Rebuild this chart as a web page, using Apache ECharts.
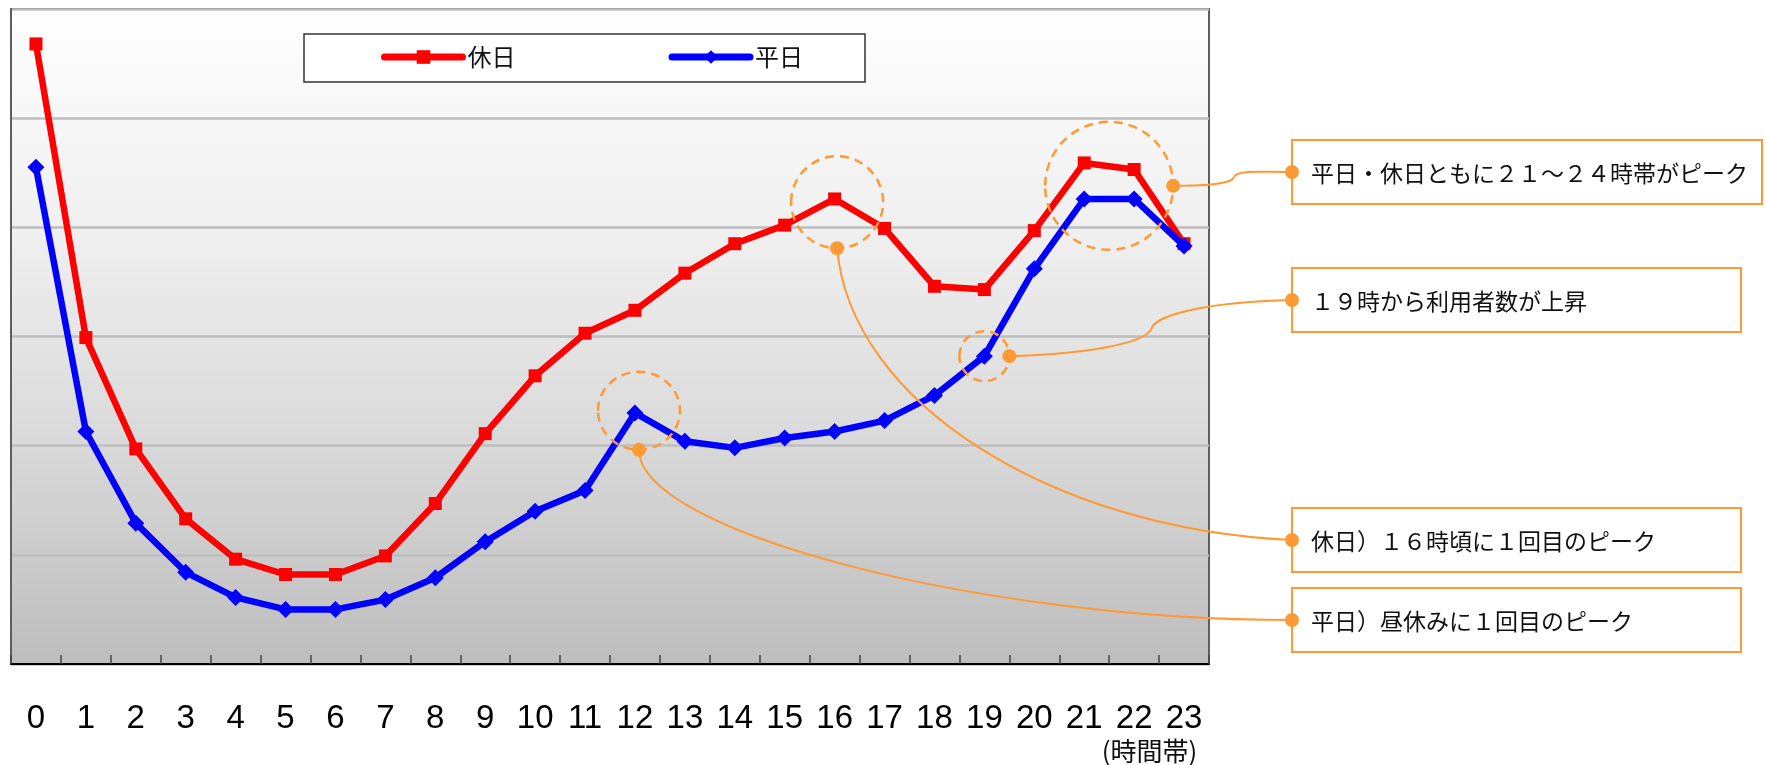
<!DOCTYPE html>
<html><head><meta charset="utf-8">
<script src="https://cdn.jsdelivr.net/npm/echarts@6/dist/echarts.min.js"></script>
<style>html,body{margin:0;padding:0;background:#fff}#c{width:1765px;height:765px}</style>
</head><body><div id="c"></div>
<script>
// ---- data ----
const hours = ['0','1','2','3','4','5','6','7','8','9','10','11','12','13','14','15','16','17','18','19','20','21','22','23'];
const holiday = [5.68, 2.99, 1.97, 1.33, 0.96, 0.82, 0.82, 0.99, 1.47, 2.11, 2.64, 3.03, 3.24, 3.58, 3.85, 4.02, 4.26, 3.99, 3.46, 3.43, 3.97, 4.59, 4.53, 3.85];
const weekday = [4.55, 2.13, 1.29, 0.84, 0.61, 0.50, 0.50, 0.59, 0.79, 1.12, 1.40, 1.59, 2.30, 2.04, 1.98, 2.07, 2.13, 2.23, 2.46, 2.82, 3.62, 4.26, 4.26, 3.83];
const seriesNames = ['休日', '平日'];
const yMin = 0, yMax = 6, yStep = 1;
const axisUnit = '(時間帯)';
const noteTexts = [
  '平日・休日ともに２１～２４時帯がピーク',
  '１９時から利用者数が上昇',
  '休日）１６時頃に１回目のピーク',
  '平日）昼休みに１回目のピーク'
];
// annotation anchors in data units: [category position, value]
const noteAnchors = [[21.5, 4.38], [19.0, 2.82], [16.05, 4.23], [12.08, 2.32]];

const ORANGE = '#ff9933';
const chart = echarts.init(document.getElementById('c'), null, {renderer: 'canvas'});

const option = {
  animation: false,
  backgroundColor: '#ffffff',
  grid: {
    left: 11, right: 556, top: 9, bottom: 101,
    containLabel: false, outerBoundsMode: 'none',
    show: true, borderColor: '#5e5e5e', borderWidth: 2,
    backgroundColor: {
      type: 'linear', x: 0, y: 0, x2: 0, y2: 1,
      colorStops: [
        {offset: 0, color: '#fefefe'},
        {offset: 0.35, color: '#efefef'},
        {offset: 0.65, color: '#dadada'},
        {offset: 1, color: '#bdbdbd'}
      ]
    }
  },
  legend: {
    data: seriesNames,
    left: 381, top: 45, padding: 0,
    itemWidth: 78, itemHeight: 17, itemGap: 153,
    lineStyle: {width: 7, cap: 'round'},
    textStyle: {fontSize: 24, color: '#111', fontFamily: '"Noto Sans CJK JP"'}
  },
  xAxis: {
    type: 'category', data: hours, boundaryGap: true,
    axisLine: {lineStyle: {color: '#000', width: 2}},
    axisTick: {show: true, inside: true, length: 9, lineStyle: {color: '#444', width: 1.5}},
    axisLabel: {fontSize: 33, color: '#000', fontFamily: '"Liberation Sans", Arial, sans-serif', margin: 38, interval: 0},
    splitLine: {show: false}
  },
  yAxis: {
    type: 'value', min: yMin, max: yMax, interval: yStep,
    axisLabel: {show: false},
    axisLine: {show: true, lineStyle: {color: '#5e5e5e', width: 2}},
    axisTick: {show: false},
    splitLine: {lineStyle: {color: '#bebebe', width: 2.5}}
  },
  series: [
    {
      name: seriesNames[0], type: 'line', data: holiday,
      symbol: 'rect', symbolSize: 13,
      lineStyle: {color: '#ff0000', width: 6.5},
      itemStyle: {color: '#ff0000'},
      z: 3
    },
    {
      name: seriesNames[1], type: 'line', data: weekday,
      symbol: 'diamond', symbolSize: 17,
      lineStyle: {color: '#0000ff', width: 6.5},
      itemStyle: {color: '#0000ff'},
      z: 4
    }
  ]
};
chart.setOption(option);

// ---- annotations positioned through the axes ----
const p0 = chart.convertToPixel({gridIndex: 0}, [0, 0]);
const p1 = chart.convertToPixel({gridIndex: 0}, [1, 1]);
const toPx = (c, v) => [p0[0] + c * (p1[0] - p0[0]), p0[1] + v * (p1[1] - p0[1])];

const circles = [
  {c: toPx(...noteAnchors[0]), rx: 64, ry: 64, dot: 'right'},
  {c: toPx(...noteAnchors[1]), rx: 25, ry: 25, dot: 'right'},
  {c: toPx(...noteAnchors[2]), rx: 46, ry: 46, dot: 'bottom'},
  {c: toPx(...noteAnchors[3]), rx: 41, ry: 39, dot: 'bottom'}
];
const boxes = [
  {x: 1292, y: 140, w: 470, h: 64},
  {x: 1292, y: 268, w: 449, h: 64},
  {x: 1292, y: 508, w: 449, h: 64},
  {x: 1292, y: 588, w: 449, h: 64}
];

const g = [];
// legend frame
g.push({type: 'rect', z: 3, shape: {x: 304, y: 34, width: 561, height: 48},
  style: {fill: '#ffffff', stroke: '#333333', lineWidth: 1.5}});

const dots = circles.map(ci => ci.dot === 'right' ? [ci.c[0] + ci.rx, ci.c[1]] : [ci.c[0], ci.c[1] + ci.ry]);
const ends = boxes.map(b => [b.x, b.y + b.h / 2]);

circles.forEach(ci => {
  g.push({type: 'ellipse', z: 20, shape: {cx: ci.c[0], cy: ci.c[1], rx: ci.rx, ry: ci.ry},
    style: {fill: 'none', stroke: ORANGE, lineWidth: 2.5, lineDash: [9, 6]}});
});

// connector curves (cubic bezier segments)
const [s0, s1, s2, s3] = dots;
const [e0, e1, e2, e3] = ends;
const bz = (a, c1, c2, b) => ({x1: a[0], y1: a[1], cpx1: c1[0], cpy1: c1[1], cpx2: c2[0], cpy2: c2[1], x2: b[0], y2: b[1]});
const m0 = [s0[0] + 61, s0[1] - 9];
const m1 = [s1[0] + 142, s1[1] - 27];
const curves = [
  bz(s0, [s0[0] + 42, s0[1]], [s0[0] + 59, s0[1] - 3], m0),
  bz(m0, [s0[0] + 64, s0[1] - 16], [e0[0] - 33, e0[1]], e0),
  bz(s1, [s1[0] + 74, s1[1] - 2], [s1[0] + 134, s1[1] - 12], m1),
  bz(m1, [s1[0] + 144, s1[1] - 39], [e1[0] - 93, e1[1] + 2], e1),
  bz(s2, [s2[0] + 13, s2[1] + 153], [1050, e2[1] - 11], e2),
  bz(s3, [s3[0], s3[1] + 82], [980, e3[1]], e3)
];
curves.forEach(sh => g.push({type: 'bezierCurve', z: 20, shape: sh,
  style: {fill: null, stroke: ORANGE, lineWidth: 2}}));

boxes.forEach((b, i) => {
  g.push({type: 'rect', z: 20, shape: {x: b.x, y: b.y, width: b.w, height: b.h},
    style: {fill: '#ffffff', stroke: ORANGE, lineWidth: 2}});
  g.push({type: 'text', z: 21, style: {text: noteTexts[i], x: b.x + 19, y: b.y + b.h / 2 + 1,
    fill: '#111111', font: '23px "Noto Sans CJK JP"', verticalAlign: 'middle', align: 'left'}});
});
dots.concat(ends).forEach(d => g.push({type: 'circle', z: 22, shape: {cx: d[0], cy: d[1], r: 7},
  style: {fill: ORANGE}}));

// axis unit label
g.push({type: 'text', z: 5, style: {text: axisUnit, x: 1149.5, y: 751, fill: '#111',
  font: '26px "Noto Sans CJK JP"', align: 'center', verticalAlign: 'middle'}});

chart.setOption({graphic: g});
</script></body></html>
